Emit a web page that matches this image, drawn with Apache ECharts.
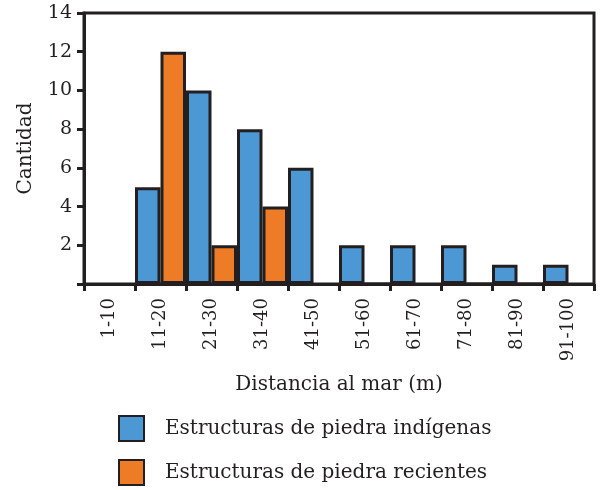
<!DOCTYPE html>
<html>
<head>
<meta charset="utf-8">
<script src="https://cdn.jsdelivr.net/npm/echarts@6/dist/echarts.min.js"></script>
<style>
  html, body { margin: 0; padding: 0; background: #fff; }
  #chart { width: 602px; height: 490px; }
</style>
</head>
<body>
<div id="chart"></div>
<script>
  // 距离分组
  var categories = ['1-10', '11-20', '21-30', '31-40', '41-50', '51-60', '61-70', '71-80', '81-90', '91-100']
  var indigenas = [null, 5, 10, 8, 6, 2, 2, 2, 1, 1]
  var recientes = [null, 12, 2, 4, null, 0, null, 0, 0, null]
  var yTicks = [0, 2, 4, 6, 8, 10, 12, 14]

  var ink = '#231f20'
  var font = 'DejaVu Serif'

  var chart = echarts.init(document.getElementById('chart'))
  chart.setOption({
    animation: false,
    textStyle: { fontFamily: font, color: ink },
    grid: {
      left: 84, right: 8, top: 13, bottom: 206,
      show: true, borderColor: ink, borderWidth: 3
    },
    legend: {
      orient: 'vertical',
      left: 118, top: 415,
      padding: 0,
      height: 75,
      itemWidth: 25, itemHeight: 25, itemGap: 17,
      icon: 'rect',
      textStyle: { fontFamily: font, fontSize: 20, color: ink, padding: [0, 0, 0, 16] },
      data: ['Estructuras de piedra indígenas', 'Estructuras de piedra recientes']
    },
    xAxis: {
      type: 'category',
      data: categories,
      name: 'Distancia al mar (m)',
      nameLocation: 'middle',
      nameGap: 91,
      nameTextStyle: { fontFamily: font, fontSize: 20, color: ink },
      axisLine: { lineStyle: { color: ink, width: 3 } },
      axisTick: { show: true, length: 7, lineStyle: { color: ink, width: 3 } },
      axisLabel: { rotate: 90, margin: 14, fontFamily: font, fontSize: 18, color: ink }
    },
    yAxis: {
      type: 'value',
      min: yTicks[0], max: yTicks[yTicks.length - 1], interval: 2,
      name: 'Cantidad',
      nameLocation: 'middle',
      nameGap: 48,
      nameTextStyle: { fontFamily: font, fontSize: 20, color: ink },
      axisLine: { show: true, lineStyle: { color: ink, width: 3 } },
      axisTick: { show: true, length: 7, lineStyle: { color: ink, width: 3 } },
      splitLine: { show: false },
      axisLabel: {
        margin: 12, fontFamily: font, fontSize: 19, color: ink,
        formatter: function (v) { return v === 0 ? '' : v }
      }
    },
    series: [
      {
        type: 'bar',
        name: 'Estructuras de piedra indígenas',
        data: indigenas,
        barGap: '0%',
        barCategoryGap: '0%',
        itemStyle: { color: '#4b98d4', borderColor: ink, borderWidth: 3 }
      },
      {
        type: 'bar',
        name: 'Estructuras de piedra recientes',
        data: recientes,
        itemStyle: { color: '#ee7b26', borderColor: ink, borderWidth: 3 }
      }
    ]
  })
</script>
</body>
</html>
